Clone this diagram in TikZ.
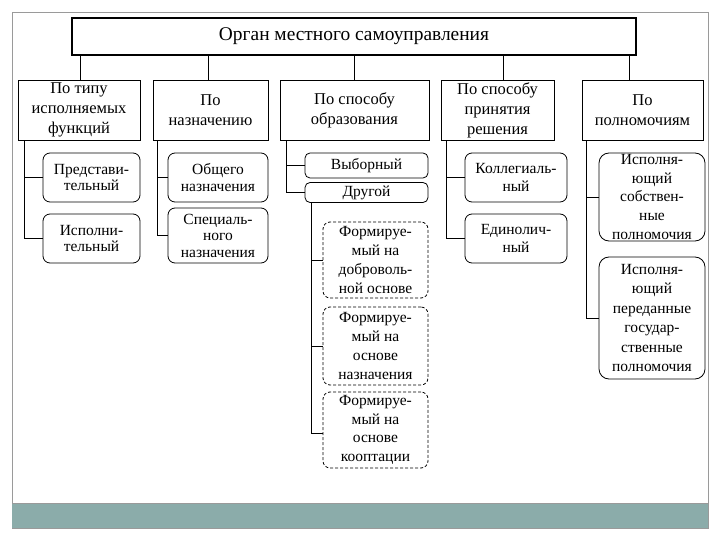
\documentclass[tikz,border=0pt]{standalone}
\usepackage{fontspec}
\setmainfont{Liberation Serif}
\definecolor{band}{HTML}{8BACAA}
\definecolor{framegray}{HTML}{9A9A9A}
\tikzset{
  base/.style={draw=black, line width=0.8pt, align=center, inner sep=1pt, fill=white},
  titlebox/.style={base, line width=1.6pt, font=\fontsize{19.4}{23}\selectfont},
  catbox/.style={base, font=\fontsize{16.5}{20}\selectfont},
  subbox/.style={base, rounded corners=7pt, font=\fontsize{15.5}{18.7}\selectfont},
  dashbox/.style={subbox, dashed, dash pattern=on 3pt off 2pt},
  link/.style={draw=black, line width=0.8pt},
}
\begin{document}
\begin{tikzpicture}[x=1pt,y=-1pt]
\useasboundingbox (0,0) rectangle (720,540);
% frame and band
\draw[framegray, line width=0.8pt] (12,12) rectangle (708,528);
\fill[band] (12,503) rectangle (708,528);
\draw[framegray, line width=0.6pt] (12,503) -- (708,503);
% title
\node[titlebox, minimum width=564pt, minimum height=37pt] (t) at (354,36.5) {Орган местного самоуправления};
% categories
\node[catbox, minimum width=122pt, minimum height=60pt] (c1) at (79,110) {По типу\\исполняемых\\функций};
\node[catbox, minimum width=115pt, minimum height=60pt] (c2) at (210.5,110) {По\\назначению};
\node[catbox, minimum width=149pt, minimum height=60pt] (c3) at (354.5,110) {По способу\\образования};
\node[catbox, minimum width=113pt, minimum height=60pt] (c4) at (497.5,110) {По способу\\принятия\\решения};
\node[catbox, minimum width=121pt, minimum height=60pt] (c5) at (642.5,110) {По\\полномочиям};
% title links
\draw[link] ([xshift=1pt]c1.north) -- ([xshift=1pt]c1.north |- t.south);
\draw[link] ([xshift=-2.5pt]c2.north) -- ([xshift=-2.5pt]c2.north |- t.south);
\draw[link] (c3.north) -- (c3.north |- t.south);
\draw[link] ([xshift=5.5pt]c4.north) -- ([xshift=5.5pt]c4.north |- t.south);
\draw[link] ([xshift=-13.5pt]c5.north) -- ([xshift=-13.5pt]c5.north |- t.south);
% sub boxes column 1
\node[subbox, minimum width=97pt, minimum height=49pt, font=\fontsize{15.5}{16.5}\selectfont] (s11) at (91.5,177.5) {Представи-\\тельный};
\node[subbox, minimum width=97pt, minimum height=49pt, font=\fontsize{15.5}{16.5}\selectfont] (s12) at (91.5,238.5) {Исполни-\\тельный};
% column 2
\node[subbox, minimum width=100pt, minimum height=49pt, font=\fontsize{15.5}{16.5}\selectfont] (s21) at (218,177.5) {Общего\\назначения};
\node[subbox, minimum width=100pt, minimum height=55pt, font=\fontsize{15.5}{16.5}\selectfont] (s22) at (218,235.5) {Специаль-\\ного\\назначения};
% column 3
\node[subbox, rounded corners=5pt, minimum width=123pt, minimum height=25pt] (s31) at (366.5,165.5) {Выборный};
\node[subbox, rounded corners=5pt, minimum width=123pt, minimum height=20pt, inner sep=0pt] (s32) at (366.5,192.5) {Другой};
\node[dashbox, minimum width=105pt, minimum height=76pt] (s33) at (375.5,260) {Формируе-\\мый на\\доброволь-\\ной основе};
\node[dashbox, minimum width=105pt, minimum height=78pt] (s34) at (375.5,346) {Формируе-\\мый на\\основе\\назначения};
\node[dashbox, minimum width=105pt, minimum height=76pt] (s35) at (375.5,430) {Формируе-\\мый на\\основе\\кооптации};
% column 4
\node[subbox, minimum width=102pt, minimum height=49pt] (s41) at (516,177.5) {Коллегиаль-\\ный};
\node[subbox, minimum width=102pt, minimum height=49pt] (s42) at (516,238.5) {Единолич-\\ный};
% column 5
\node[subbox, rounded corners=10pt, minimum width=106pt, minimum height=88pt] (s51) at (652,197) {Исполня-\\ющий\\собствен-\\ные\\полномочия};
\node[subbox, rounded corners=10pt, minimum width=106pt, minimum height=122pt, font=\fontsize{15.5}{19.4}\selectfont] (s52) at (652,318) {Исполня-\\ющий\\переданные\\государ-\\ственные\\полномочия};
% spines
\coordinate (p1) at ([xshift=7pt]c1.south west);
\draw[link] (p1) |- (s12.west);
\draw[link] (p1 |- s11.west) -- (s11.west);
\coordinate (p2) at ([xshift=5pt]c2.south west);
\draw[link] (p2) |- (s22.west);
\draw[link] (p2 |- s21.west) -- (s21.west);
\coordinate (p3) at ([xshift=7pt]c3.south west);
\draw[link] (p3) |- (s32.west);
\draw[link] (p3 |- s31.west) -- (s31.west);
\coordinate (p3b) at ([xshift=7pt]s32.south west);
\draw[link] (p3b) |- ([yshift=-3pt]s35.west);
\draw[link] (p3b |- s33.west) -- (s33.west);
\draw[link] (p3b |- s34.west) -- (s34.west);
\coordinate (p4) at ([xshift=6pt]c4.south west);
\draw[link] (p4) |- (s42.west);
\draw[link] (p4 |- s41.west) -- (s41.west);
\coordinate (p5) at ([xshift=5pt]c5.south west);
\draw[link] (p5) |- (s52.west);
\draw[link] (p5 |- s51.west) -- (s51.west);
\end{tikzpicture}
\end{document}
